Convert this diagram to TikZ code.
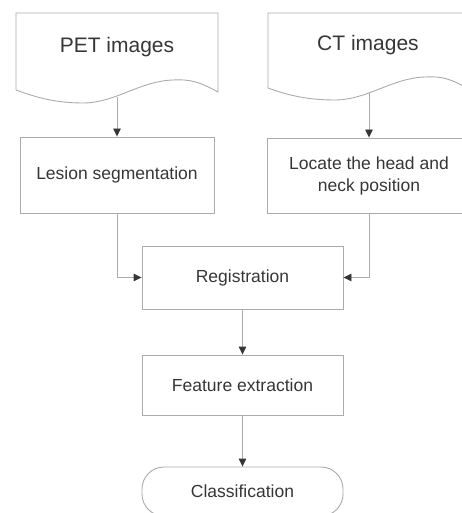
\documentclass[tikz,border=0pt]{standalone}
\usepackage{fontspec}
\setmainfont{Liberation Sans}
\usetikzlibrary{arrows.meta}
\definecolor{linegray}{HTML}{ABABAB}
\definecolor{textgray}{HTML}{363636}
\tikzset{
  box/.style={draw=linegray, line width=0.9pt, minimum width=194pt, minimum height=76pt,
    inner sep=0pt, align=center, text=textgray, font=\fontsize{17.5}{22}\selectfont},
  doc/.style={draw=linegray, line width=0.9pt},
  title/.style={text=textgray, font=\fontsize{21}{25}\selectfont},
  arr/.style={draw=linegray, line width=0.9pt, -{Triangle[length=8pt,width=7.5pt,color=textgray]}},
}
\begin{document}
\begin{tikzpicture}[x=1pt, y=-1pt]
    \useasboundingbox (0,0) rectangle (462,513);
    \clip (0,0) rectangle (462,513);

    % 两个文档形状（波浪底边）
    \draw[doc] (16,90) -- (16,13) -- (218,13) -- (218,92)
        .. controls (200,82) and (190,79) .. (173,80)
        .. controls (140,81) and (115,103) .. (83,103)
        .. controls (55,103) and (35,97) .. (16,90);
    \draw[doc, shift={(252,0)}] (16,88) -- (16,13) -- (218,13) -- (218,90)
        .. controls (200,79) and (190,76) .. (173,77)
        .. controls (140,78) and (115,100) .. (83,100)
        .. controls (55,100) and (35,95) .. (16,88);
    \node[title] (pet) at (117,47) {PET images};
    \node[title] (ct) at (368,45) {CT images};
    \coordinate (pet-out) at (117,97);
    \coordinate (ct-out) at (369,93);

    % === 处理步骤 ===
    \node[box] (lesion) at (117,175) {Lesion segmentation};
    \node[box, minimum width=204pt, minimum height=75pt] (locate) at (369,175.5) {Locate the head and\\neck position};
    \node[box, minimum width=201pt, minimum height=63pt] (reg) at (242.5,277.5) {Registration};
    \node[box, minimum width=201pt, minimum height=60pt] (feat) at (242.5,385) {Feature extraction};
    \node[box, minimum width=201pt, minimum height=49pt, rounded corners=22pt] (cls) at (242.5,491.5) {Classification};

    % 连接箭头
    \draw[arr] (pet-out) -- (lesion);
    \draw[arr] (ct-out) -- (locate);
    \draw[arr] (lesion.south) |- (reg.west);
    \draw[arr] (locate.south) |- (reg.east);
    \draw[arr] (reg) -- (feat);
    \draw[arr] (feat) -- (cls);
\end{tikzpicture}
\end{document}
